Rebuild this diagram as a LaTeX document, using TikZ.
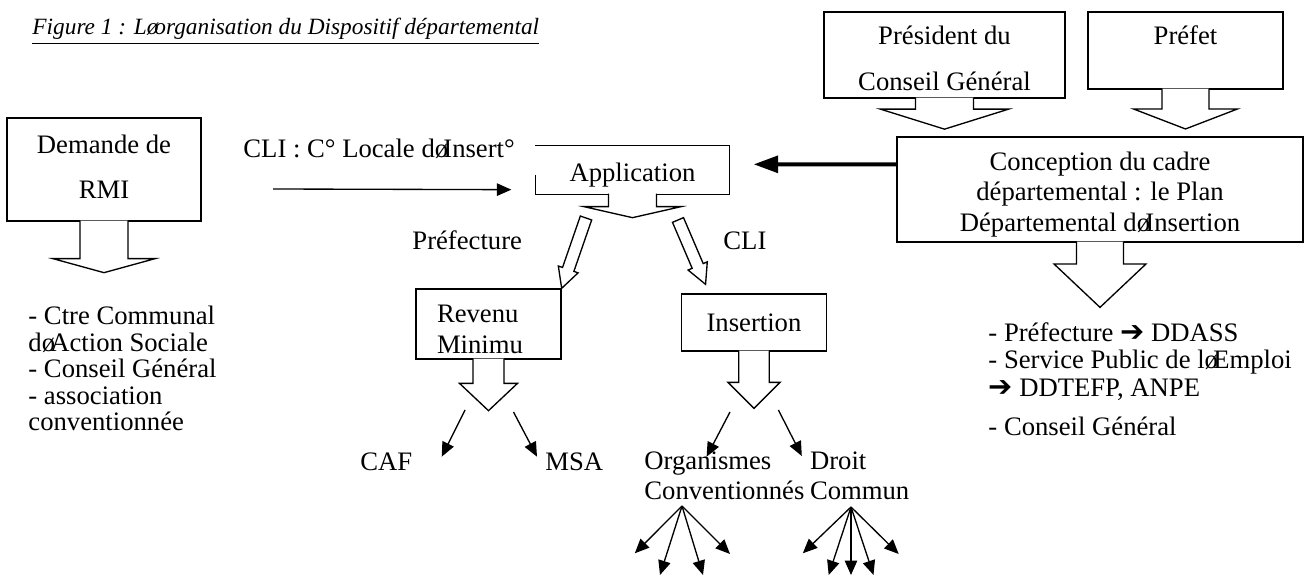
\documentclass[tikz,border=0pt]{standalone}
\usepackage{fontspec}
\setmainfont{Liberation Serif}
\newfontfamily\symbfont{DejaVu Sans}
\usetikzlibrary{arrows.meta, calc}

\newcommand{\qt}{ø\kern-0.18em}
\newcommand{\harr}{{\symbfont\fontsize{13}{13}\selectfont ➔}}

% box with a hollow arrow hanging below: node, shaft half, shaft length, head half, head length
\newcommand{\calloutdown}[5]{%
  \filldraw[hollow] ($(#1.south)+(-#2,-1)$) -- ++(0,#3+1) -- ++(#2-#4,0) -- ++(#4,#5)
    -- ++(#4,-#5) -- ++(#2-#4,0) -- ++(0,-#3-1);
}
% slanted hollow arrow: from, to, shaft half, head half, head length
\newcommand{\hollowslant}[5]{%
  \coordinate (hb) at ($(#2)!#5!(#1)$);
  \filldraw[hollow] ($(#1)!#3!90:(#2)$) -- ($(hb)!#3!90:(#2)$) -- ($(hb)!#4!90:(#2)$) -- (#2)
    -- ($(hb)!#4!-90:(#2)$) -- ($(hb)!#3!-90:(#2)$) -- ($(#1)!#3!-90:(#2)$) -- cycle;
}

\begin{document}
\begin{tikzpicture}[x=0.45pt, y=-0.45pt,
  box/.style={draw, line width=0.6pt, inner sep=0pt, align=center, font=\fontsize{12}{13.9}\selectfont},
  txt/.style={inner sep=0pt, align=left, font=\fontsize{12}{13.9}\selectfont},
  hollow/.style={draw, fill=white, line width=0.6pt, line join=miter},
  arr/.style={-{Triangle[length=6.5pt, width=5.6pt]}, line width=0.6pt},
  bigarr/.style={-{Triangle[length=11pt, width=7.5pt]}, line width=1.8pt}
]
\useasboundingbox (0,0) rectangle (1307,575);

\node[anchor=base west, inner sep=0pt, font=\fontsize{10.5}{12}\selectfont\itshape] (title) at (32,35)
  {\underline{Figure 1 : L\qt organisation du Dispositif départemental}};

% boxes
\node[box, minimum width=87.3pt, minimum height=46.35pt, font=\fontsize{12}{20.25}\selectfont] (demande) at (104,169.5)
  {Demande de\\RMI\rule[-2.7pt]{0pt}{0pt}};
\node[box, draw=none, minimum width=86.85pt, minimum height=21.6pt, text height=10.8pt, text depth=0pt] (appli) at (632.5,170) {Application};
\draw[line width=0.6pt] ($(appli.south west)+(0,-20)$) -- (appli.south west) -- (appli.south east)
  -- (appli.north east) -- (appli.north west);
\node[box, minimum width=108.45pt, minimum height=38.7pt, font=\fontsize{12}{20.7}\selectfont] (president) at (944.5,55)
  {\rule{0pt}{11.6pt}Président du\\Conseil Général};
\node[box, minimum width=87.75pt, minimum height=34.65pt, text height=8pt, text depth=13pt] (prefet) at (1185.5,50.5) {Préfet};
\node[box, minimum width=182.7pt, minimum height=47.25pt] (conception) at (1100,189.5)
  {\rule{0pt}{12.9pt}Conception du cadre\\départemental : le Plan\\Départemental d\qt Insertion};
\node[box, minimum width=65.25pt, minimum height=31.5pt, text width=46.35pt, align=left] (revenu) at (488.5,324)
  {\rule{0pt}{13.1pt}Revenu\\Minimu};
\node[box, minimum width=65.5pt, minimum height=25.65pt] (insertion) at (754,322.5) {Insertion};

% hollow arrows under the boxes
\calloutdown{demande}{24}{37}{51}{14}
\calloutdown{appli}{24}{12}{48.5}{11}
\calloutdown{president}{29}{10.5}{64}{20}
\calloutdown{prefet}{23.5}{19.3}{52}{20}
\calloutdown{conception}{23.5}{21.3}{46}{43.4}
\calloutdown{revenu}{15.5}{23.7}{29}{27.3}
\calloutdown{insertion}{15.3}{30.7}{26}{26}

% from Application to the two branches
\coordinate (prefbr) at (586,218);
\coordinate (clibr) at (678,220);
\coordinate (insertin) at ($(insertion.north west)+(25,-9)$);
\hollowslant{prefbr}{revenu.north east}{2.7pt}{4.7pt}{9pt}
\hollowslant{clibr}{insertin}{2.7pt}{4.7pt}{9pt}

\node[txt, anchor=base west] (preflbl) at (412,250) {Préfecture};
\node[txt, anchor=base west] (clilbl) at (723,250) {CLI};

% CLI and PDI arrows into Application
\node[txt, anchor=base west] (clitxt) at (243,158) {CLI : C° Locale d\qt Insert°};
\coordinate (clistart) at (273,189);
\coordinate (cliend) at ($(appli.south west)+(-24,-5)$);
\draw[arr] (clistart) -- (cliend);
\coordinate (pdiw) at ($(conception.north west)+(0,28)$);
\coordinate (applie) at ($(appli.north east)+(24,19)$);
\draw[bigarr] (pdiw) -- (applie);

% lists
\node[txt, anchor=north west, font=\fontsize{12}{11.9}\selectfont] (accueil) at (28,306)
  {- Ctre Communal\\d\qt Action Sociale\\- Conseil Général\\- association\\conventionnée};
\node[txt, anchor=base west] (acteur1) at (988,341.7) {- Préfecture \harr\ DDASS};
\node[txt, anchor=base west] (acteur2) at (988,368.3) {- Service Public de l\qt Emploi};
\node[txt, anchor=base west] (acteur3) at (988,396.7) {\harr\ DDTEFP, ANPE};
\node[txt, anchor=base west] (acteur4) at (988,436) {- Conseil Général};

% Revenu Minimu
\node[txt, anchor=base west] (caf) at (360,471) {CAF};
\node[txt, anchor=base west] (msa) at (545,471) {MSA};
\coordinate (cafa) at (465,410);
\coordinate (cafb) at (441.7,456.7);
\coordinate (msaa) at (513.5,412);
\coordinate (msab) at (537,456.7);
\draw[arr] (cafa) -- (cafb);
\draw[arr] (msaa) -- (msab);

% Insertion
\node[txt, anchor=north west] (orgconv) at (644,451) {Organismes\\Conventionnés};
\node[txt, anchor=north west] (droit) at (809.6,451) {Droit\\Commun};
\coordinate (orga) at (730,412);
\coordinate (orgb) at (706.6,456.7);
\coordinate (droita) at (778.4,410);
\coordinate (droitb) at (801.8,456);
\draw[arr] (orga) -- (orgb);
\draw[arr] (droita) -- (droitb);

\coordinate (convfan) at (682,506);
\foreach \ex/\ey [count=\i] in {634.8/553.3, 660/575, 703/575, 730/554}{
  \coordinate (conv\i) at (\ex,\ey);
  \draw[arr] (convfan) -- (conv\i);
}
\coordinate (droitfan) at (851,507);
\foreach \ex/\ey [count=\i] in {802.8/553.3, 828.7/575, 851/575, 873.5/575, 898.7/554}{
  \coordinate (droit\i) at (\ex,\ey);
  \draw[arr] (droitfan) -- (droit\i);
}
\end{tikzpicture}
\end{document}
